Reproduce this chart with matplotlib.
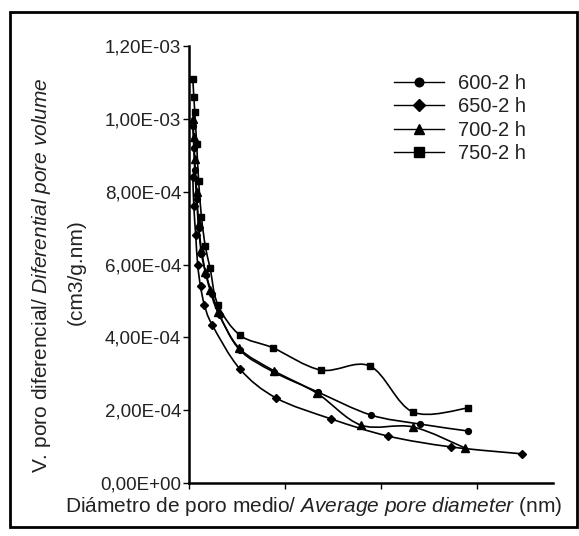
import matplotlib
matplotlib.use("Agg")
import matplotlib.pyplot as plt
from matplotlib.path import Path
from matplotlib.patches import PathPatch, Rectangle
from matplotlib.lines import Line2D
from matplotlib.ticker import FuncFormatter, MultipleLocator
import numpy as np

plt.rcParams['font.family'] = ['Liberation Sans', 'DejaVu Sans']
plt.rcParams['mathtext.fontset'] = 'custom'
plt.rcParams['mathtext.rm'] = 'Liberation Sans'
plt.rcParams['mathtext.it'] = 'Liberation Sans:italic'

# ---- data ----
labels = ["600-2 h", "650-2 h", "700-2 h", "750-2 h"]
markers = ["o", "D", "^", "s"]
msizes = [4.2, 4.0, 5.5, 4.8]

x600 = [0.4, 0.5, 0.6, 0.8, 1.0, 1.3, 1.8, 2.4, 3.2, 5.3, 8.8, 13.4, 18.9, 24.0, 29.0]
y600 = [9.8e-4, 9.2e-4, 8.6e-4, 7.8e-4, 7.0e-4, 6.3e-4, 5.7e-4, 5.2e-4, 4.6e-4, 3.65e-4,
        3.05e-4, 2.5e-4, 1.87e-4, 1.62e-4, 1.43e-4]

x650 = [0.4, 0.5, 0.7, 0.9, 1.2, 1.6, 2.4, 5.3, 9.1, 14.8, 20.7, 27.3, 34.7]
y650 = [8.4e-4, 7.6e-4, 6.8e-4, 6.0e-4, 5.4e-4, 4.9e-4, 4.35e-4, 3.13e-4, 2.33e-4,
        1.76e-4, 1.29e-4, 9.9e-5, 8.0e-5]

x700 = [0.4, 0.5, 0.6, 0.8, 1.0, 1.3, 1.7, 2.2, 3.0, 5.2, 8.85, 13.3, 17.9, 23.3, 28.75]
y700 = [1.0e-3, 9.5e-4, 8.9e-4, 8.0e-4, 7.1e-4, 6.4e-4, 5.8e-4, 5.3e-4, 4.7e-4, 3.71e-4,
        3.08e-4, 2.47e-4, 1.59e-4, 1.54e-4, 9.6e-5]

x750 = [0.4, 0.5, 0.6, 0.8, 1.0, 1.3, 1.7, 2.2, 3.0, 5.3, 8.75, 13.75, 18.85, 23.3, 29.1]
y750 = [1.11e-3, 1.06e-3, 1.02e-3, 9.3e-4, 8.3e-4, 7.3e-4, 6.5e-4, 5.9e-4, 4.9e-4, 4.06e-4,
        3.71e-4, 3.10e-4, 3.21e-4, 1.95e-4, 2.06e-4]

series_x = [x600, x650, x700, x750]
series_y = [y600, y650, y700, y750]

W, H = 579, 536
fig = plt.figure(figsize=(W / 100, H / 100), dpi=100)
ax = fig.add_axes([189 / W, 53 / H, (553 - 189) / W, (483 - 46) / H])


def smooth_path(xs, ys):
    """Excel-like smoothed line: Bezier through the data points."""
    P = np.column_stack([xs, ys]).astype(float)
    n = len(P)
    verts = [P[0]]
    codes = [Path.MOVETO]
    for i in range(n - 1):
        p0 = P[i - 1] if i > 0 else P[i]
        p1 = P[i]
        p2 = P[i + 1]
        p3 = P[i + 2] if i + 2 < n else P[i + 1]
        c1 = p1 + (p2 - p0) / 6.0
        c2 = p2 - (p3 - p1) / 6.0
        verts += [c1, c2, p2]
        codes += [Path.CURVE4] * 3
    return Path(verts, codes)


handles = []
for xs, ys, m, ms, lab in zip(series_x, series_y, markers, msizes, labels):
    ax.add_patch(PathPatch(smooth_path(xs, ys), facecolor='none', edgecolor='black',
                           lw=1.2, transform=ax.transData, zorder=2))
    ax.plot(xs, ys, linestyle='none', marker=m, color='black', markersize=ms, zorder=3)
    handles.append(Line2D([], [], color='black', lw=1.0, marker=m, markersize=ms + 2))

ax.set_xlim(0, 37.9)
ax.set_ylim(0, 1.2e-3)
ax.xaxis.set_major_locator(MultipleLocator(10))
ax.yaxis.set_major_locator(MultipleLocator(2e-4))
ax.yaxis.set_major_formatter(FuncFormatter(lambda v, p: f"{v:.2E}".replace('.', ',')))
ax.tick_params(axis='x', direction='out', length=4, width=1, labelbottom=False)
ax.tick_params(axis='y', direction='out', length=4, width=1, labelsize=13.5, pad=1.5,
               labelcolor='#222222')
for s in ['top', 'right']:
    ax.spines[s].set_visible(False)
for s in ['left', 'bottom']:
    ax.spines[s].set_linewidth(1.8)

leg = ax.legend(handles, labels, loc='upper left',
                bbox_to_anchor=((386 - 189) / (553 - 189), (483 - 66) / (483 - 46)),
                frameon=False, fontsize=14.5, handlelength=2.5, labelspacing=0.22,
                handletextpad=0.7, borderaxespad=0.0)
for t in leg.get_texts():
    t.set_color('#222222')

fig.text(314 / W, 1 - 507 / H, r"Diámetro de poro medio/ $\it{Average\ pore\ diameter}$ (nm)",
         ha='center', va='center', fontsize=15, color='#222222')
fig.text(42 / W, 1 - 275 / H, r"V. poro diferencial/ $\it{Diferential\ pore\ volume}$",
         ha='center', va='center', rotation=90, fontsize=15, color='#222222')
fig.text(76 / W, 1 - 272 / H, "(cm3/g.nm)", ha='center', va='center', rotation=90,
         fontsize=15, color='#222222')

fig.patches.append(Rectangle((10 / W, 1 - 527 / H), (577 - 10) / W, (527 - 12) / H,
                             transform=fig.transFigure, fill=False, edgecolor='black', lw=2))

fig.savefig("out.png", dpi=100)
